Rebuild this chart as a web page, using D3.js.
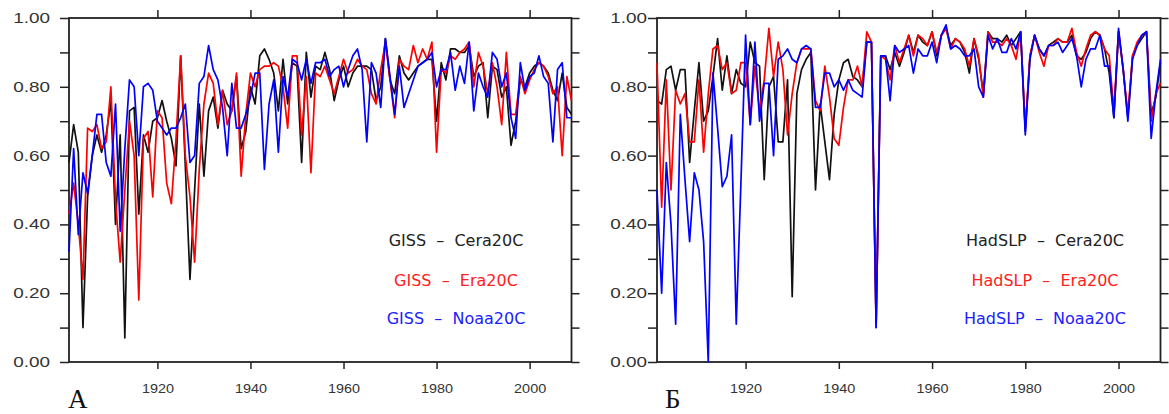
<!DOCTYPE html>
<html>
<head>
<meta charset="utf-8">
<script src="https://cdn.jsdelivr.net/npm/d3@7"></script>
<style>
  body { margin: 0; background: #fff; }
  svg { display: block; }
</style>
</head>
<body>
<div id="my_dataviz"></div>
<script>
// Years on the x axis
var firstYear = 1901, lastYear = 2009;
var xTicks = [1920, 1940, 1960, 1980, 2000];
var yTicks = [0, 0.1, 0.2, 0.3, 0.4, 0.5, 0.6, 0.7, 0.8, 0.9, 1.0];
var yTickLabels = ["0.00", "", "0.20", "", "0.40", "", "0.60", "", "0.80", "", "1.00"];

// Panel A: GISS vs reanalyses (1901..2009)
var gissCera = [
  0.58, 0.69, 0.61, 0.10, 0.48, 0.60, 0.66, 0.61, 0.66, 0.76,
  0.40, 0.66, 0.07, 0.73, 0.74, 0.43, 0.66, 0.61, 0.70, 0.71,
  0.76, 0.70, 0.65, 0.57, 0.89, 0.57, 0.24, 0.50, 0.75, 0.54,
  0.73, 0.77, 0.68, 0.79, 0.75, 0.73, 0.83, 0.62, 0.67, 0.80,
  0.75, 0.89, 0.91, 0.88, 0.84, 0.73, 0.88, 0.75, 0.87, 0.86,
  0.58, 0.90, 0.77, 0.86, 0.85, 0.90, 0.85, 0.76, 0.82, 0.86,
  0.80, 0.84, 0.86, 0.86, 0.86, 0.85, 0.76, 0.80, 0.94, 0.82,
  0.78, 0.89, 0.84, 0.82, 0.84, 0.86, 0.87, 0.88, 0.88, 0.70,
  0.87, 0.82, 0.91, 0.91, 0.90, 0.90, 0.92, 0.83, 0.86, 0.87,
  0.71, 0.86, 0.85, 0.77, 0.80, 0.63, 0.70, 0.82, 0.80, 0.84,
  0.86, 0.87, 0.86, 0.84, 0.79, 0.76, 0.84, 0.74, 0.72
];
var gissEra = [
  0.43, 0.52, 0.40, 0.24, 0.68, 0.67, 0.69, 0.62, 0.64, 0.80,
  0.47, 0.29, 0.50, 0.70, 0.60, 0.18, 0.65, 0.67, 0.48, 0.73,
  0.71, 0.52, 0.46, 0.65, 0.89, 0.60, 0.48, 0.29, 0.56, 0.75,
  0.84, 0.81, 0.69, 0.79, 0.69, 0.73, 0.84, 0.54, 0.72, 0.84,
  0.80, 0.85, 0.86, 0.86, 0.87, 0.86, 0.80, 0.68, 0.89, 0.89,
  0.66, 0.83, 0.55, 0.84, 0.83, 0.86, 0.82, 0.78, 0.83, 0.88,
  0.84, 0.85, 0.88, 0.86, 0.85, 0.78, 0.75, 0.85, 0.93, 0.82,
  0.71, 0.88, 0.86, 0.85, 0.92, 0.87, 0.91, 0.88, 0.93, 0.61,
  0.85, 0.84, 0.89, 0.88, 0.90, 0.91, 0.93, 0.80, 0.90, 0.86,
  0.78, 0.87, 0.80, 0.69, 0.90, 0.72, 0.72, 0.83, 0.78, 0.82,
  0.85, 0.87, 0.86, 0.83, 0.78, 0.80, 0.60, 0.83, 0.76
];
var gissNoaa = [
  0.32, 0.62, 0.37, 0.55, 0.49, 0.60, 0.72, 0.72, 0.58, 0.54,
  0.75, 0.38, 0.62, 0.82, 0.80, 0.60, 0.80, 0.81, 0.79, 0.70,
  0.68, 0.66, 0.68, 0.68, 0.71, 0.75, 0.58, 0.60, 0.81, 0.83,
  0.92, 0.85, 0.82, 0.74, 0.60, 0.81, 0.68, 0.68, 0.72, 0.77,
  0.84, 0.84, 0.56, 0.75, 0.82, 0.61, 0.83, 0.77, 0.88, 0.87,
  0.82, 0.88, 0.81, 0.87, 0.87, 0.88, 0.83, 0.85, 0.86, 0.80,
  0.85, 0.89, 0.91, 0.85, 0.64, 0.87, 0.84, 0.74, 0.94, 0.83,
  0.72, 0.86, 0.74, 0.78, 0.82, 0.86, 0.87, 0.88, 0.90, 0.80,
  0.85, 0.85, 0.90, 0.79, 0.86, 0.81, 0.93, 0.73, 0.84, 0.80,
  0.77, 0.90, 0.88, 0.80, 0.84, 0.71, 0.65, 0.87, 0.79, 0.83,
  0.84, 0.89, 0.83, 0.81, 0.64, 0.85, 0.87, 0.71, 0.71
];

// Panel B: HadSLP vs reanalyses (1901..2009)
var hadCera = [
  0.76, 0.75, 0.85, 0.86, 0.79, 0.85, 0.85, 0.58, 0.73, 0.87,
  0.70, 0.73, 0.83, 0.94, 0.79, 0.89, 0.78, 0.85, 0.81, 0.80,
  0.93, 0.87, 0.86, 0.53, 0.80, 0.83, 0.64, 0.64, 0.82, 0.19,
  0.78, 0.85, 0.88, 0.90, 0.50, 0.75, 0.64, 0.53, 0.72, 0.82,
  0.87, 0.88, 0.83, 0.82, 0.80, 0.93, 0.93, 0.11, 0.89, 0.89,
  0.85, 0.90, 0.86, 0.90, 0.95, 0.90, 0.95, 0.93, 0.92, 0.96,
  0.89, 0.95, 0.97, 0.92, 0.94, 0.93, 0.90, 0.84, 0.94, 0.88,
  0.78, 0.96, 0.94, 0.94, 0.93, 0.95, 0.92, 0.94, 0.96, 0.67,
  0.89, 0.95, 0.91, 0.89, 0.92, 0.93, 0.94, 0.93, 0.93, 0.95,
  0.89, 0.88, 0.90, 0.94, 0.96, 0.95, 0.91, 0.84, 0.71, 0.96,
  0.85, 0.71, 0.89, 0.92, 0.94, 0.96, 0.72, 0.77, 0.87
];
var hadEra = [
  0.87, 0.45, 0.82, 0.50, 0.79, 0.75, 0.78, 0.64, 0.64, 0.82,
  0.61, 0.78, 0.91, 0.92, 0.85, 0.87, 0.78, 0.79, 0.87, 0.87,
  0.69, 0.86, 0.73, 0.82, 0.97, 0.83, 0.93, 0.85, 0.66, 0.78,
  0.87, 0.91, 0.91, 0.91, 0.76, 0.73, 0.86, 0.77, 0.65, 0.63,
  0.74, 0.82, 0.82, 0.86, 0.80, 0.96, 0.93, 0.10, 0.89, 0.88,
  0.82, 0.92, 0.87, 0.91, 0.95, 0.89, 0.95, 0.94, 0.92, 0.96,
  0.90, 0.95, 0.97, 0.91, 0.94, 0.93, 0.91, 0.86, 0.94, 0.89,
  0.77, 0.96, 0.93, 0.93, 0.92, 0.94, 0.92, 0.88, 0.96, 0.68,
  0.89, 0.95, 0.90, 0.86, 0.92, 0.92, 0.94, 0.93, 0.93, 0.97,
  0.90, 0.86, 0.91, 0.95, 0.96, 0.95, 0.91, 0.89, 0.73, 0.96,
  0.85, 0.72, 0.89, 0.93, 0.95, 0.96, 0.70, 0.78, 0.81
];
var hadNoaa = [
  0.50, 0.20, 0.58, 0.40, 0.11, 0.72, 0.53, 0.35, 0.55, 0.50,
  0.35, 0.00, 0.84, 0.68, 0.51, 0.54, 0.66, 0.11, 0.52, 0.95,
  0.69, 0.93, 0.70, 0.81, 0.81, 0.60, 0.88, 0.89, 0.91, 0.88,
  0.87, 0.91, 0.92, 0.91, 0.74, 0.74, 0.84, 0.84, 0.80, 0.82,
  0.79, 0.82, 0.79, 0.78, 0.77, 0.93, 0.93, 0.10, 0.89, 0.89,
  0.76, 0.92, 0.90, 0.91, 0.92, 0.84, 0.91, 0.89, 0.89, 0.93,
  0.87, 0.95, 0.98, 0.91, 0.92, 0.91, 0.89, 0.89, 0.91, 0.80,
  0.77, 0.95, 0.91, 0.94, 0.90, 0.90, 0.94, 0.91, 0.96, 0.66,
  0.88, 0.95, 0.91, 0.89, 0.92, 0.92, 0.93, 0.90, 0.92, 0.94,
  0.89, 0.80, 0.88, 0.91, 0.91, 0.95, 0.86, 0.86, 0.71, 0.97,
  0.85, 0.70, 0.88, 0.92, 0.95, 0.96, 0.65, 0.78, 0.88
];

var legendGiss = ["GISS  \u2013  Cera20C", "GISS  \u2013  Era20C", "GISS  \u2013  Noaa20C"];
var legendHad = ["HadSLP  \u2013  Cera20C", "HadSLP  \u2013  Era20C", "HadSLP  \u2013  Noaa20C"];
var lineColors = ["#111111", "#ff0000", "#0000ff"];
var textColors = ["#222222", "#ff2020", "#2020ff"];
var panelTags = ["\u0410", "\u0411"];

// Global dimensions
var width = 1169, height = 414;
var plotTop = 18, plotBottom = 362;

var svg = d3.select("#my_dataviz")
  .append("svg")
    .attr("width", width)
    .attr("height", height);

// stretch text horizontally (the source figure is a bit wide)
function stretch(sel, sx) {
  sel.each(function() {
    var t = d3.select(this);
    var x = +t.attr("x") || 0;
    t.attr("x", x / sx).attr("transform", "scale(" + sx + ",1)");
  });
}

var panels = [
  {left: 69, right: 571.5, pad: 10, series: [gissCera, gissEra, gissNoaa], legend: legendGiss, legendX: 456, tag: panelTags[0], tagX: 68},
  {left: 657, right: 1160.5, pad: 1, series: [hadCera, hadEra, hadNoaa], legend: legendHad, legendX: 1045, tag: panelTags[1], tagX: 665}
];

//--- Function to draw one panel --- //
function drawPanel(p) {
  var x = d3.scaleLinear()
    .domain([firstYear, lastYear])
    .range([p.left, p.right]);
  var y = d3.scaleLinear()
    .domain([0, 1])
    .range([plotBottom, plotTop]);

  var g = svg.append("g");

  //Left axis with labels
  var yl = g.append("g")
    .attr("transform", "translate(" + p.left + ",0)")
    .call(d3.axisLeft(y).tickValues(yTicks).tickSize(9).tickPadding(p.pad)
      .tickFormat(function(d, i) { return yTickLabels[i]; }));
  yl.selectAll("text")
    .style("font-family", "'Liberation Sans', Arial, sans-serif")
    .style("font-size", "14px")
    .attr("fill", "#333");
  stretch(yl.selectAll("text"), 1.35);

  //Right axis, ticks only
  g.append("g")
    .attr("transform", "translate(" + p.right + ",0)")
    .call(d3.axisRight(y).tickValues(yTicks).tickSize(8).tickFormat(""));

  //Top axis, ticks only
  g.append("g")
    .attr("transform", "translate(0," + plotTop + ")")
    .call(d3.axisTop(x).tickValues(xTicks).tickSize(8).tickFormat(""));

  //Bottom axis with year labels
  var xb = g.append("g")
    .attr("transform", "translate(0," + plotBottom + ")")
    .call(d3.axisBottom(x).tickValues(xTicks).tickSize(7).tickFormat(d3.format("d")));
  xb.selectAll("text")
    .attr("y", 22)
    .style("font-family", "'Liberation Sans', Arial, sans-serif")
    .style("font-size", "12px")
    .attr("fill", "#333");
  stretch(xb.selectAll("text"), 1.2);

  g.selectAll(".domain").remove();
  g.selectAll(".tick line").attr("stroke", "#222").attr("stroke-width", 1.5);

  //Frame
  g.append("rect")
    .attr("x", p.left)
    .attr("y", plotTop)
    .attr("width", p.right - p.left)
    .attr("height", plotBottom - plotTop)
    .attr("fill", "none")
    .attr("stroke", "#222")
    .attr("stroke-width", 1.8);

  //Lines
  var line = d3.line()
    .x(function(d, i) { return x(firstYear + i); })
    .y(function(d) { return y(d); });
  g.selectAll("path.series")
    .data(p.series)
    .enter()
    .append("path")
      .attr("class", "series")
      .attr("d", line)
      .attr("fill", "none")
      .attr("stroke", function(d, i) { return lineColors[i]; })
      .attr("stroke-width", 1.7)
      .attr("stroke-linejoin", "round");

  //Legend
  g.selectAll("text.legend")
    .data(p.legend)
    .enter()
    .append("text")
      .attr("class", "legend")
      .attr("x", p.legendX)
      .attr("y", function(d, i) { return [246, 286, 324][i]; })
      .attr("text-anchor", "middle")
      .style("font-family", "'DejaVu Sans', sans-serif")
      .style("font-size", "16px")
      .style("white-space", "pre")
      .attr("fill", function(d, i) { return textColors[i]; })
      .text(function(d) { return d; });

  //Panel letter
  g.append("text")
    .attr("x", p.tagX)
    .attr("y", 408)
    .style("font-family", "'Liberation Serif', 'Times New Roman', serif")
    .style("font-size", "27px")
    .attr("fill", "#111")
    .text(p.tag);
}

panels.forEach(drawPanel);
</script>
</body>
</html>
